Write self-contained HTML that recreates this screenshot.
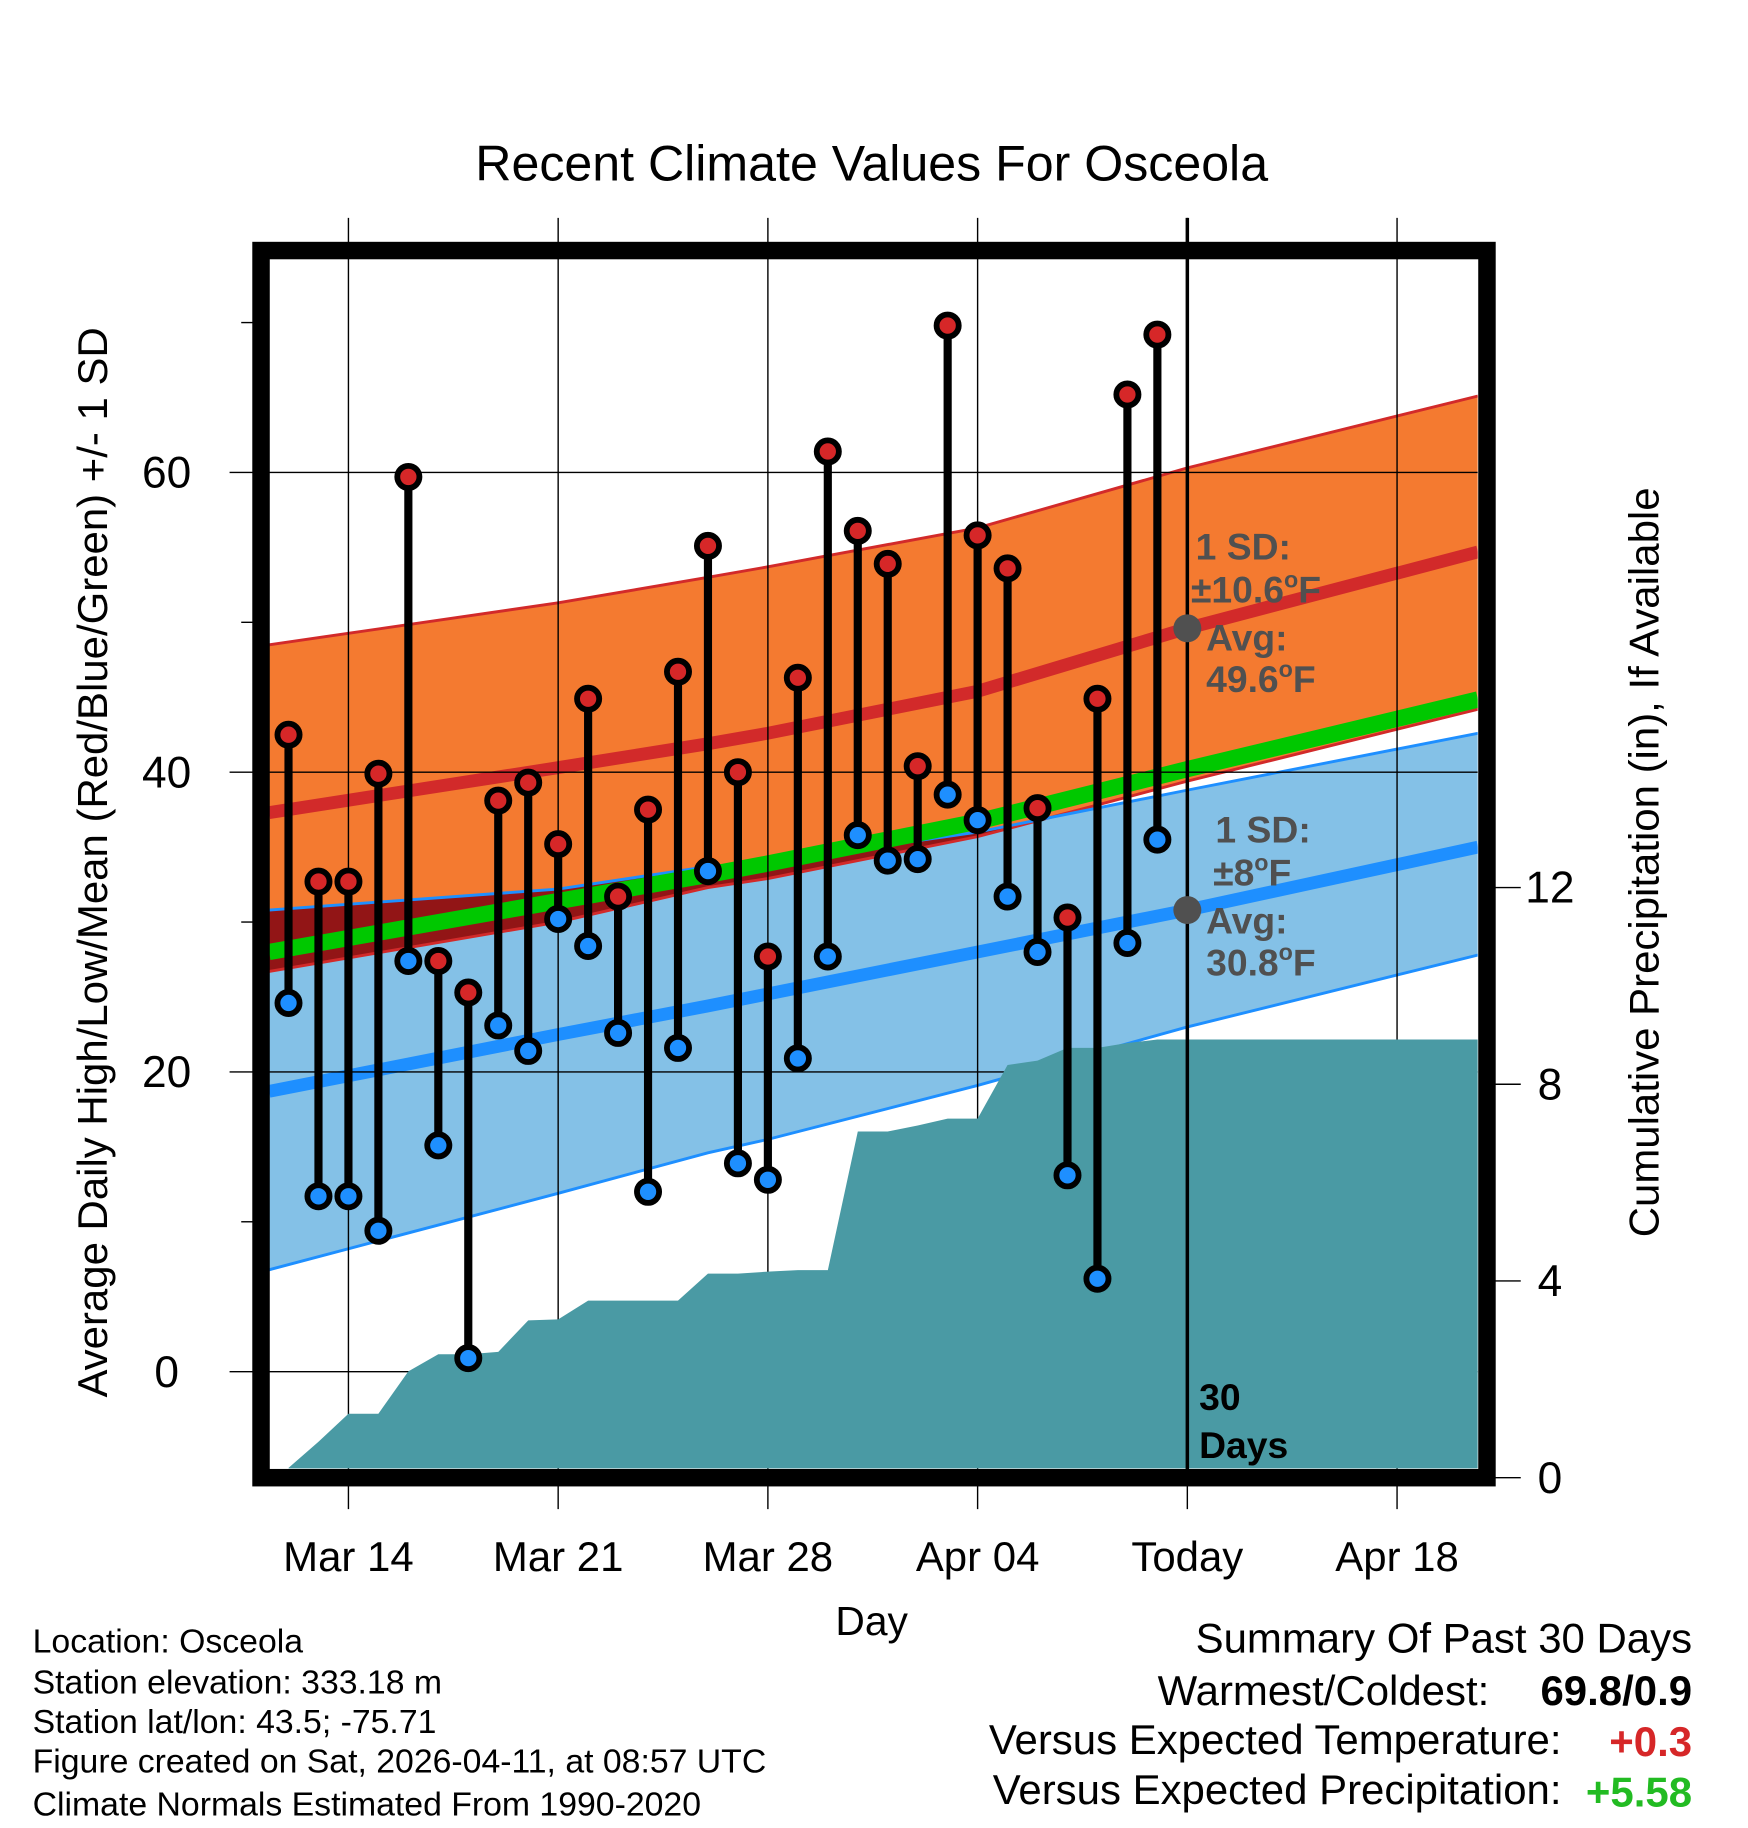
<!DOCTYPE html>
<html><head><meta charset="utf-8"><style>
html,body{margin:0;padding:0;background:#fff}
svg{display:block}
text{font-family:"Liberation Sans",Arial,sans-serif}
</style></head><body>
<svg id="chart" width="1748" height="1828" viewBox="0 0 1500 1568.6" preserveAspectRatio="none" xmlns="http://www.w3.org/2000/svg">
<defs><clipPath id="plotClip"><rect x="231" y="222" width="1037" height="1038"/></clipPath>
<clipPath id="lowBandClip"><path id="lowClipPath" d=""/></clipPath></defs>
<text x="748" y="155" font-size="43" text-anchor="middle">Recent Climate Values For Osceola</text>
<g id="bands" clip-path="url(#plotClip)"></g>
<g id="gridOver"></g>
<g id="precip" clip-path="url(#plotClip)"></g>
<g id="obs"></g>
<g id="annot" font-weight="bold" fill="#505050" font-size="32">
<text x="1026" y="480">1 SD:</text>
<text x="1022" y="517">±10.6<tspan font-size="20" dy="-13">o</tspan><tspan dy="13">F</tspan></text>
<text x="1035" y="558">Avg:</text>
<text x="1035" y="594">49.6<tspan font-size="20" dy="-13">o</tspan><tspan dy="13">F</tspan></text>
<text x="1043" y="723">1 SD:</text>
<text x="1041" y="760">±8<tspan font-size="20" dy="-13">o</tspan><tspan dy="13">F</tspan></text>
<text x="1035" y="801">Avg:</text>
<text x="1035" y="837">30.8<tspan font-size="20" dy="-13">o</tspan><tspan dy="13">F</tspan></text>
<text x="1029" y="1210" fill="#000">30</text>
<text x="1029" y="1251" fill="#000">Days</text>
</g>
<rect x="224" y="215" width="1052" height="1053" fill="none" stroke="#000" stroke-width="15"/>
<g id="axes"></g>
<text transform="translate(92,740) rotate(-90)" font-size="36" text-anchor="middle">Average Daily High/Low/Mean (Red/Blue/Green) +/- 1 SD</text>
<text transform="translate(1423,740) rotate(-90)" font-size="36" text-anchor="middle">Cumulative Precipitation (in), If Available</text>
<text x="748" y="1403" font-size="35" text-anchor="middle">Day</text>
<g font-size="29">
<text x="28" y="1418">Location: Osceola</text>
<text x="28" y="1453">Station elevation: 333.18 m</text>
<text x="28" y="1487">Station lat/lon: 43.5; -75.71</text>
<text x="28" y="1521">Figure created on Sat, 2026-04-11, at 08:57 UTC</text>
<text x="28" y="1558">Climate Normals Estimated From 1990-2020</text>
</g>
<g font-size="36" text-anchor="end">
<text x="1452" y="1418">Summary Of Past 30 Days</text>
<text x="1278" y="1463">Warmest/Coldest:</text>
<text x="1452" y="1463" font-weight="bold">69.8/0.9</text>
<text x="1340" y="1505">Versus Expected Temperature:</text>
<text x="1452" y="1507" font-weight="bold" fill="#d62728">+0.3</text>
<text x="1340" y="1548">Versus Expected Precipitation:</text>
<text x="1452" y="1550" font-weight="bold" fill="#22bb22">+5.58</text>
</g>
</svg>
<script>
// ---- data ----
const obsDays = [1,2,3,4,5,6,7,8,9,10,11,12,13,14,15,16,17,18,19,20,21,22,23,24,25,26,27,28,29,30]; // days since Mar 11
const highs = [42.5,32.7,32.7,39.9,59.7,27.4,25.3,38.1,39.3,35.2,44.9,31.7,37.5,46.7,55.1,40.0,27.7,46.3,61.4,56.1,53.9,40.4,69.8,55.8,53.6,37.6,30.3,44.9,65.2,69.2];
const lows = [24.6,11.7,11.7,9.4,27.4,15.1,0.9,23.1,21.4,30.2,28.4,22.6,12.0,21.6,33.4,13.9,12.8,20.9,27.7,35.8,34.1,34.2,38.5,36.8,31.7,28.0,13.1,6.2,28.6,35.5];
const precipDays = [1,2,3,4,5,6,7,8,9,10,11,12,13,14,15,16,17,18,19,20,21,22,23,24,25,26,27,28,29,30,31];
const precipCum = [0.2,0.73,1.3,1.3,2.16,2.51,2.51,2.56,3.2,3.22,3.6,3.6,3.6,3.6,4.15,4.15,4.19,4.22,4.22,7.04,7.04,7.16,7.3,7.3,8.39,8.48,8.74,8.74,8.84,8.91,8.91];
const normDays = [0.35,10,15,17,24,31,40.7];
const highUpper = [48.5,51.3,53.0,53.7,56.3,60.3,65.1];
const highMean = [37.3,40.3,41.9,42.6,45.4,49.6,54.7];
const highLower = [26.7,30.0,32.3,32.9,35.7,39.4,44.2];
const lowUpper = [30.8,32.2,33.7,34.0,36.0,38.8,42.6];
const lowMean = [18.7,22.5,24.4,25.2,28.0,30.8,35.0];
const lowLower = [6.8,11.9,14.6,15.5,19.1,23.0,27.8];
const xTickDays = [3,10,17,24,31,38];
const xTickLabels = ["Mar 14","Mar 21","Mar 28","Apr 04","Today","Apr 18"];
const yTicks = [0,20,40,60];
const yMinor = [10,30,50,70];
const y2Ticks = [0,4,8,12];
const todayDay = 31;

// ---- scales ----
const X = d => 299 + (d-3)*25.71;
const Y = t => 1177 - t*12.86;
const Y2 = p => 1268 - p*42.2;
const NS = "http://www.w3.org/2000/svg";
function mk(tag, parent, attrs){const e=document.createElementNS(NS,tag);for(const k in attrs)e.setAttribute(k,attrs[k]);parent.appendChild(e);return e;}
const line = pts => pts.map((p,i)=>(i?"L":"M")+p[0].toFixed(1)+","+p[1].toFixed(1)).join("");
const band = (up,lo) => line(up)+line(lo.slice().reverse()).replace(/^M/,"L")+"Z";
const pts = arr => normDays.map((d,i)=>[X(d),Y(arr[i])]);

const hiUp = pts(highUpper), hiLo = pts(highLower), loUp = pts(lowUpper), loLo = pts(lowLower);
const hiM = pts(highMean), loM = pts(lowMean);
const avM = normDays.map((d,i)=>[X(d),Y((highMean[i]+lowMean[i])/2)]);

const bands=document.getElementById('bands');
let e;
e=mk('path',bands,{d:band(hiUp,hiLo),fill:'#f47a30'});


e=mk('path',bands,{d:line(hiM),fill:'none',stroke:'#d22a2a','stroke-width':11});


e=mk('path',bands,{d:band(loUp,loLo),fill:'#84c1e7'});


document.getElementById('lowClipPath').setAttribute('d',band(loUp,loLo));
e=mk('path',bands,{d:band(hiUp,hiLo),fill:'#921516','clip-path':'url(#lowBandClip)'});


[[hiUp,'#d22a2a'],[hiLo,'#d22a2a'],[loUp,'#1e8fff'],[loLo,'#1e8fff']].forEach(([p,c])=>{
  const l=mk('path',bands,{d:line(p),fill:'none',stroke:c,'stroke-width':2.5});
  
  
});
e=mk('path',bands,{d:line(loM),fill:'none',stroke:'#1e8fff','stroke-width':11});


e=mk('path',bands,{d:line(avM),fill:'none',stroke:'#00c800','stroke-width':14});



// grid
const g=document.getElementById('gridOver');
xTickDays.forEach(d=>{
  const l=mk('line',g,{x1:X(d),x2:X(d),y1:187,y2:1295,stroke:'#000','stroke-width':1.2});
  
  
});
yTicks.forEach(t=>{
  const l=mk('line',g,{x1:197,x2:1268,y1:Y(t),y2:Y(t),stroke:'#000','stroke-width':1.2});
  
  
});

// precip
const pp=document.getElementById('precip');
const ppts=precipDays.map((d,i)=>[X(d),Y2(precipCum[i])]);
ppts.push([1270,Y2(precipCum[precipCum.length-1])]);
const pd=line(ppts)+"L1270,1262L"+ppts[0][0].toFixed(1)+",1262Z";
e=mk('path',pp,{d:pd,fill:'#4a9aa4'});



// today line
const svg=document.getElementById('chart');
e=document.createElementNS(NS,'line');
e.setAttribute('x1',X(todayDay));e.setAttribute('x2',X(todayDay));e.setAttribute('y1',187);e.setAttribute('y2',1262);
e.setAttribute('stroke','#000');e.setAttribute('stroke-width',3);


svg.insertBefore(e,document.getElementById('obs'));

// obs
const ob=document.getElementById('obs');
obsDays.forEach((d,i)=>{
  const s=mk('line',ob,{x1:X(d),x2:X(d),y1:Y(highs[i]),y2:Y(lows[i]),stroke:'#000','stroke-width':7});
  
  
});
obsDays.forEach((d,i)=>{
  const h=mk('circle',ob,{cx:X(d),cy:Y(highs[i]),r:9.5,fill:'#d62728',stroke:'#000','stroke-width':5});
  
  
  const l=mk('circle',ob,{cx:X(d),cy:Y(lows[i]),r:9.5,fill:'#1e8fff',stroke:'#000','stroke-width':5});
  
  
});
// avg markers
[[Y(highMean[5]),'high-avg-marker'],[Y(lowMean[5]),'low-avg-marker']].forEach(([y,n])=>{
  const c=mk('circle',document.getElementById('annot'),{cx:X(todayDay),cy:y,r:12,fill:'#505050'});
  
  
});

// axes
const ax=document.getElementById('axes');
yTicks.forEach(t=>{
  const tx=mk('text',ax,{x:143,y:Y(t)+13,'font-size':38,'text-anchor':'middle'});tx.textContent=t;
  
  
});
yMinor.forEach(t=>{
  const l=mk('line',ax,{x1:207,x2:217,y1:Y(t),y2:Y(t),stroke:'#000','stroke-width':1.2});
  
  
});
y2Ticks.forEach(p=>{
  const l=mk('line',ax,{x1:1283,x2:1305,y1:Y2(p),y2:Y2(p),stroke:'#000','stroke-width':1.2});
  
  
  const tx=mk('text',ax,{x:1330,y:Y2(p)+13,'font-size':38,'text-anchor':'middle'});tx.textContent=p;
  
  
});
xTickDays.forEach((d,i)=>{
  const tx=mk('text',ax,{x:X(d),y:1348,'font-size':36,'text-anchor':'middle'});tx.textContent=xTickLabels[i];
  
  
});
</script>
</body></html>
